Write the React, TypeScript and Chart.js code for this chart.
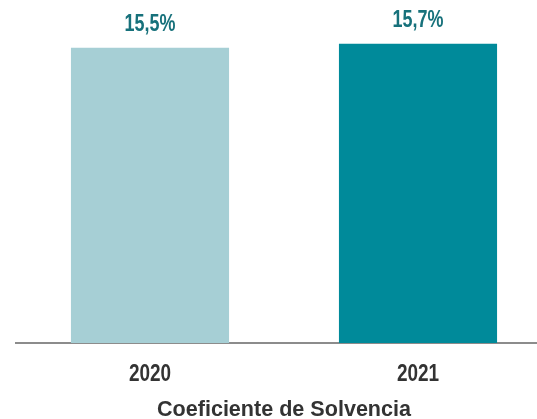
import React, { useEffect, useRef } from "react";
import { Chart, registerables } from "chart.js";

Chart.register(...registerables);

const categories = ["2020", "2021"];
const values = [15.5, 15.7];
const valueLabels = ["15,5%", "15,7%"];
const barColors = ["#a6cfd5", "#008a9a"];
const axisTitle = "Coeficiente de Solvencia";

const FONT = "'Liberation Sans', Arial, sans-serif";

function drawCondensed(ctx: any, text: string, x: number, y: number, sx: number) {
  ctx.save();
  ctx.translate(x, y);
  ctx.scale(sx, 1);
  ctx.fillText(text, 0, 0);
  ctx.restore();
}

const textPlugin = {
  id: "condensedText",
  afterDatasetsDraw(chart: any) {
    const ctx = chart.ctx;
    const meta = chart.getDatasetMeta(0);
    const xScale = chart.scales.x;
    const area = chart.chartArea;
    ctx.save();
    ctx.textAlign = "center";
    ctx.textBaseline = "alphabetic";
    // value labels above bars
    ctx.font = `bold 23px ${FONT}`;
    ctx.fillStyle = "#17717b";
    meta.data.forEach((bar: any, i: number) => {
      drawCondensed(ctx, valueLabels[i], bar.x, bar.y - 17, 0.78);
    });
    // category labels
    ctx.font = `bold 24px ${FONT}`;
    ctx.fillStyle = "#333333";
    categories.forEach((c, i) => {
      drawCondensed(ctx, c, xScale.getPixelForTick(i), area.bottom + 38, 0.79);
    });
    // axis title
    ctx.font = `bold 22px ${FONT}`;
    ctx.fillStyle = "#333333";
    drawCondensed(ctx, axisTitle, (area.left + area.right) / 2, area.bottom + 73, 0.98);
    ctx.restore();
  },
};

export default function App() {
  const ref = useRef<HTMLCanvasElement>(null);
  useEffect(() => {
    if (!ref.current) return;
    const chart = new Chart(ref.current, {
      type: "bar",
      data: {
        labels: categories,
        datasets: [
          {
            data: values,
            backgroundColor: barColors,
            borderWidth: 0,
            categoryPercentage: 1,
            barPercentage: 0.59,
          },
        ],
      },
      options: {
        animation: false,
        responsive: false,
        maintainAspectRatio: false,
        events: [],
        layout: { padding: { top: 0, left: 16, right: 8, bottom: 76 } },
        plugins: {
          legend: { display: false },
          tooltip: { enabled: false },
          title: { display: false },
        },
        scales: {
          x: {
            grid: { display: false, drawTicks: false },
            border: { display: true, color: "#8c8c8c", width: 2 },
            ticks: { display: false },
          },
          y: {
            display: false,
            min: 0,
            max: 18,
          },
        },
      },
      plugins: [textPlugin],
    });
    return () => chart.destroy();
  }, []);
  return (
    <div
      style={{
        position: "fixed",
        left: 0,
        top: 0,
        width: 537,
        height: 419,
        overflow: "hidden",
        background: "#ffffff",
      }}
    >
      <canvas ref={ref} width={560} height={419} style={{ display: "block" }} />
    </div>
  );
}
